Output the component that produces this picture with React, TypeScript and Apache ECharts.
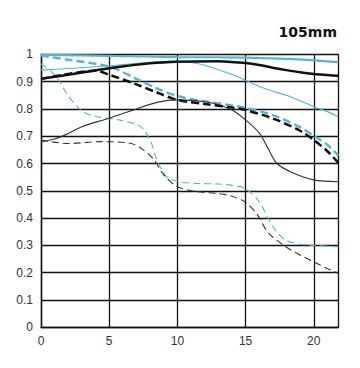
import React, { useEffect, useRef } from "react";
import * as echarts from "echarts";

const title = "105mm";
const xTicks = [0, 5, 10, 15, 20];
const xMax = 21.8;
const yTickStep = 0.1;

// Black = max aperture, blue = f/8; thick = 10 lp/mm, thin = 30 lp/mm; solid = sagittal, dashed = meridional
const thickBlueSolidX = [0, 5, 10, 15, 18, 20, 21.8];
const thickBlueSolidY = [0.998, 0.994, 0.99, 0.988, 0.983, 0.978, 0.971];

const thickBlueDashedX = [0, 2, 5, 7, 8.5, 10, 12, 15, 17, 19, 20, 21, 21.8];
const thickBlueDashedY = [0.995, 0.98, 0.955, 0.91, 0.875, 0.847, 0.828, 0.804, 0.777, 0.733, 0.702, 0.668, 0.63];

const thinBlueSolidX = [0, 2, 5, 8, 10, 11, 12, 14, 15, 16, 17, 18, 19, 20, 21, 21.8];
const thinBlueSolidY = [0.942, 0.948, 0.958, 0.971, 0.974, 0.97, 0.96, 0.926, 0.905, 0.882, 0.865, 0.85, 0.83, 0.808, 0.79, 0.771];

const thinBlueDashedX = [0, 1, 2, 3, 4, 5.8, 7.3, 8, 8.5, 9.2, 10.2, 11.4, 13, 14, 15, 16, 16.6, 17.3, 18, 19, 20, 21.8];
const thinBlueDashedY = [0.965, 0.925, 0.848, 0.792, 0.772, 0.759, 0.735, 0.686, 0.613, 0.552, 0.533, 0.527, 0.525, 0.52, 0.508, 0.46, 0.405, 0.348, 0.318, 0.304, 0.3, 0.295];

const thickBlackSolidX = [0, 2, 5, 8, 10, 13, 15, 16, 17, 18, 19, 20, 21, 21.8];
const thickBlackSolidY = [0.91, 0.925, 0.949, 0.967, 0.973, 0.975, 0.968, 0.961, 0.951, 0.942, 0.934, 0.928, 0.924, 0.921];

const thickBlackDashedX = [0, 2, 4, 5, 7, 8.5, 10, 12, 14, 15, 17, 19, 20, 21, 21.8];
const thickBlackDashedY = [0.91, 0.928, 0.94, 0.925, 0.89, 0.86, 0.833, 0.818, 0.805, 0.796, 0.765, 0.72, 0.686, 0.645, 0.603];

const thinBlackSolidX = [0, 1, 2, 3, 5, 7, 8.5, 10, 12, 13, 14, 15, 16, 16.6, 17.3, 18.5, 20, 21.8];
const thinBlackSolidY = [0.68, 0.69, 0.71, 0.735, 0.766, 0.8, 0.824, 0.833, 0.826, 0.815, 0.796, 0.76, 0.712, 0.66, 0.6, 0.565, 0.54, 0.533];

const thinBlackDashedX = [0, 2, 4.35, 6.55, 7.5, 8.3, 9, 10, 11.4, 13, 14, 15, 15.9, 16.6, 17.8, 19, 20, 21, 21.8];
const thinBlackDashedY = [0.686, 0.673, 0.68, 0.674, 0.65, 0.613, 0.558, 0.515, 0.497, 0.49, 0.48, 0.458, 0.41, 0.35, 0.3, 0.265, 0.24, 0.215, 0.198];

const BLUE = "#55b5d2";
const BLACK = "#111111";

const zip = (xs: number[], ys: number[]) => xs.map((x, i) => [x, ys[i]]);

export default function App() {
  const ref = useRef<HTMLDivElement>(null);
  useEffect(() => {
    document.body.style.margin = "0";
    if (!ref.current) return;
    const chart = echarts.init(ref.current, null, { renderer: "svg" });
    const mk = (name: string, xs: number[], ys: number[], color: string, width: number, dash: number[] | null) => ({
      name,
      type: "line",
      data: zip(xs, ys),
      smooth: 0.3,
      showSymbol: false,
      symbol: "none",
      lineStyle: { color, width, type: dash ? dash : "solid" },
      z: 3,
    });
    chart.setOption({
      animation: false,
      backgroundColor: "#ffffff",
      title: {
        text: title,
        right: 18,
        top: 20,
        textStyle: { fontFamily: "DejaVu Sans", fontWeight: "bold", fontSize: 14, color: "#111" },
      },
      grid: { left: 41, right: 21.7, top: 54.3, bottom: 40.7 },
      xAxis: {
        type: "value",
        min: 0,
        max: xMax,
        interval: 5,
        axisLine: { show: true, lineStyle: { color: "#111", width: 1.4 } },
        axisTick: { show: false },
        splitLine: { show: true, lineStyle: { color: "#111", width: 1.3 } },
        axisLabel: {
          margin: 8,
          fontFamily: "Liberation Sans",
          fontSize: 12,
          color: "#333",
          formatter: (v: number) => (xTicks.includes(Math.round(v * 100) / 100) ? String(v) : ""),
        },
      },
      yAxis: {
        type: "value",
        min: 0,
        max: 1,
        interval: yTickStep,
        axisLine: { show: true, lineStyle: { color: "#111", width: 1.4 } },
        axisTick: { show: false },
        splitLine: { show: true, lineStyle: { color: "#111", width: 1.3 } },
        axisLabel: {
          margin: 8,
          fontFamily: "Liberation Sans",
          fontSize: 12,
          color: "#333",
          formatter: (v: number) => String(Math.round(v * 10) / 10),
        },
      },
      series: [
        mk("f/8 10lp/mm S", thickBlueSolidX, thickBlueSolidY, BLUE, 2.2, null),
        mk("f/8 10lp/mm M", thickBlueDashedX, thickBlueDashedY, BLUE, 2.4, [8, 4]),
        mk("f/8 30lp/mm S", thinBlueSolidX, thinBlueSolidY, BLUE, 1.1, null),
        mk("f/8 30lp/mm M", thinBlueDashedX, thinBlueDashedY, BLUE, 1.1, [7, 4]),
        mk("open 30lp/mm S", thinBlackSolidX, thinBlackSolidY, "#333", 1.1, null),
        mk("open 30lp/mm M", thinBlackDashedX, thinBlackDashedY, "#333", 1.1, [7, 4]),
        mk("open 10lp/mm S", thickBlackSolidX, thickBlackSolidY, BLACK, 2.5, null),
        mk("open 10lp/mm M", thickBlackDashedX, thickBlackDashedY, BLACK, 2.5, [8, 4]),
      ],
    });
    return () => chart.dispose();
  }, []);
  return <div ref={ref} style={{ width: 360, height: 368 }} />;
}
